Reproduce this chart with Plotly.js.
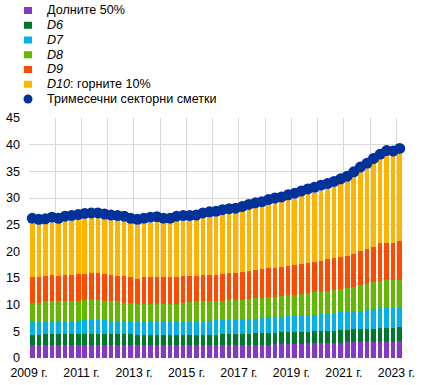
<!DOCTYPE html>
<html><head><meta charset="utf-8">
<script src="https://cdn.plot.ly/plotly-3.0.1.min.js"></script>
<style>html,body{margin:0;padding:0;background:#fff}</style>
</head><body><div id="chart" style="width:431px;height:385px"></div>
<script>
// Quarters 2009 Q1 ... 2023 Q1 (57 quarters)
const quarters = [
 "2009 Q1","2009 Q2","2009 Q3","2009 Q4","2010 Q1","2010 Q2","2010 Q3","2010 Q4",
 "2011 Q1","2011 Q2","2011 Q3","2011 Q4","2012 Q1","2012 Q2","2012 Q3","2012 Q4",
 "2013 Q1","2013 Q2","2013 Q3","2013 Q4","2014 Q1","2014 Q2","2014 Q3","2014 Q4",
 "2015 Q1","2015 Q2","2015 Q3","2015 Q4","2016 Q1","2016 Q2","2016 Q3","2016 Q4",
 "2017 Q1","2017 Q2","2017 Q3","2017 Q4","2018 Q1","2018 Q2","2018 Q3","2018 Q4",
 "2019 Q1","2019 Q2","2019 Q3","2019 Q4","2020 Q1","2020 Q2","2020 Q3","2020 Q4",
 "2021 Q1","2021 Q2","2021 Q3","2021 Q4","2022 Q1","2022 Q2","2022 Q3","2022 Q4",
 "2023 Q1"];

const bottom50 = [2.4,2.4,2.4,2.4,2.4,2.4,2.4,2.5,2.5,2.5,2.5,2.5,2.5,2.5,2.5,2.5,
 2.4,2.4,2.4,2.4,2.4,2.4,2.4,2.4,2.4,2.4,2.4,2.4,2.4,2.4,2.4,2.4,
 2.45,2.45,2.45,2.45,2.5,2.55,2.6,2.6,2.7,2.7,2.75,2.8,2.8,2.85,2.9,2.9,
 2.95,2.95,3.0,3.0,3.0,3.0,3.05,3.05,3.2];
const d6 = [1.85,1.85,2.05,2.05,2.05,2.05,2.05,1.95,1.95,1.95,1.95,1.95,1.95,1.95,1.95,1.95,
 1.85,1.85,1.85,2.0,2.0,2.0,2.0,2.0,2.0,2.0,2.0,2.0,2.0,2.05,2.05,2.1,
 2.05,2.1,2.15,2.2,2.2,2.2,2.2,2.25,2.2,2.25,2.2,2.2,2.25,2.25,2.25,2.3,
 2.35,2.4,2.45,2.5,2.5,2.55,2.55,2.6,2.55];
const d7 = [2.75,2.75,2.55,2.55,2.55,2.55,2.55,2.55,2.75,2.75,2.75,2.75,2.55,2.55,2.55,2.55,
 2.6,2.6,2.6,2.45,2.45,2.45,2.45,2.45,2.6,2.6,2.6,2.6,2.65,2.65,2.75,2.7,
 2.8,2.8,2.8,2.85,2.9,2.9,2.95,2.95,3.0,3.05,3.1,3.1,3.15,3.2,3.3,3.4,
 3.35,3.4,3.45,3.6,3.7,3.75,3.75,3.75,3.8];
const d8 = [3.4,3.4,3.6,3.6,3.6,3.7,3.7,3.75,3.6,3.6,3.6,3.55,3.6,3.6,3.4,3.4,
 3.35,3.35,3.35,3.35,3.35,3.35,3.35,3.45,3.5,3.6,3.6,3.6,3.55,3.6,3.6,3.6,
 3.6,3.65,3.8,3.8,3.8,3.85,3.95,4.0,4.0,4.0,4.15,4.2,4.2,4.2,4.35,4.4,
 4.55,4.65,4.7,4.8,5.0,5.1,5.25,5.2,5.05];
const d9 = [4.85,4.85,4.8,4.9,4.7,4.85,4.85,4.95,5.0,5.1,5.1,4.95,4.9,4.85,4.9,4.85,
 4.7,4.9,4.9,5.0,4.9,4.9,5.0,5.0,4.9,4.8,4.9,5.0,5.0,5.1,5.1,5.2,
 5.3,5.3,5.3,5.3,5.4,5.4,5.4,5.5,5.5,5.6,5.6,5.7,5.8,6.0,5.9,5.9,
 5.9,6.1,6.4,6.5,6.7,7.1,7.0,7.0,7.3];
const d10 = [9.85,9.75,9.9,9.9,10.0,10.05,10.15,10.2,10.3,10.3,10.3,10.3,10.3,10.25,10.3,10.05,
 10.1,10.1,10.3,10.3,10.1,10.1,10.4,10.4,10.3,10.4,10.7,10.8,10.9,11.0,11.1,11.1,
 11.2,11.5,11.6,11.7,11.9,12.1,12.1,12.3,12.5,12.7,12.9,13.0,13.2,13.2,13.4,13.7,
 14.0,14.4,14.8,15.1,15.5,15.7,16.3,16.2,16.4];
const sectorTotal = [26.2,26.0,26.1,26.4,26.2,26.6,26.7,26.9,27.1,27.2,27.2,27.0,26.8,26.7,26.6,26.2,
 26.0,26.2,26.4,26.5,26.2,26.2,26.6,26.7,26.7,26.8,27.2,27.4,27.5,27.8,28.0,28.1,
 28.4,28.8,29.1,29.3,29.7,30.0,30.2,30.6,30.9,31.3,31.7,32.0,32.4,32.7,33.1,33.6,
 34.1,34.9,35.8,36.5,37.4,38.2,38.9,38.8,39.3];

const yearTickLabels = ["2009 г.","","2011 г.","","2013 г.","","2015 г.","","2017 г.","","2019 г.","","2021 г.","","2023 г."];
const yTicks = [0,5,10,15,20,25,30,35,40,45];

const seriesNames = ["Долните 50%","<i>D6</i>","<i>D7</i>","<i>D8</i>","<i>D9</i>","<i>D10</i>: горните 10%"];
const seriesData = [bottom50,d6,d7,d8,d9,d10];
const colors = ["#8139c6","#00782b","#00b1ea","#65b800","#ff4b00","#ffb400"];
const dotName = "Тримесечни секторни сметки";
const dotColor = "#003299";

const xIdx = quarters.map((q,i)=>i);
const traces = seriesData.map((vals,k)=>({
  type:'bar', x:xIdx, y:vals, name:seriesNames[k], customdata:quarters, textposition:'none',
  hovertemplate:'%{customdata}: %{y}<extra></extra>',
  marker:{color:colors[k], line:{width:0}}, showlegend:false
}));
traces.push({type:'scatter', mode:'markers', x:xIdx, y:sectorTotal, name:dotName, customdata:quarters,
  hovertemplate:'%{customdata}: %{y}<extra></extra>',
  marker:{color:dotColor, size:11, line:{width:0}}, showlegend:false, cliponaxis:false});

// plot area geometry (px)
const W=431,H=385, L=29, R=28, T=118, B=27;
const pw=W-L-R, ph=H-T-B;
const px2x = p => (p-L)/pw;
const py2y = p => (H-B-p)/ph;

const legendItems = [...seriesNames, dotName];
const legendColors = [...colors, dotColor];
const rowY0 = 10.5, rowStep = 14.75;
const shapes=[], annotations=[];
legendItems.forEach((name,i)=>{
  const cy = rowY0 + i*rowStep;
  if(i<6){
    shapes.push({type:'rect', xref:'paper', yref:'paper', x0:px2x(24), x1:px2x(32), y0:py2y(cy+3.5), y1:py2y(cy-3.5),
      fillcolor:legendColors[i], line:{width:0}});
  } else {
    shapes.push({type:'circle', xref:'paper', yref:'paper', x0:px2x(23.5), x1:px2x(32.5), y0:py2y(cy+4.5), y1:py2y(cy-4.5),
      fillcolor:legendColors[i], line:{width:0}});
  }
  annotations.push({xref:'paper', yref:'paper', x:px2x(45), y:py2y(cy), xanchor:'left', yanchor:'middle',
    text:name, showarrow:false, font:{family:'Liberation Sans, Arial, sans-serif', size:12.6, color:'#000'}});
});

const layout = {
  width:W, height:H, margin:{l:L, r:R, t:T, b:B, pad:0},
  paper_bgcolor:'#fff', plot_bgcolor:'#fff',
  barmode:'stack', bargap:0.3,
  font:{family:'Liberation Sans, Arial, sans-serif', size:12, color:'#000'},
  xaxis:{range:[-0.5,56.5], tickmode:'array', tickvals:yearTickLabels.map((t,k)=>-0.5+4*k), ticktext:yearTickLabels,
    showgrid:true, gridcolor:'#d9d9d9', gridwidth:1, zeroline:false, showline:false, ticks:'', ticklabelstandoff:6,
    tickfont:{size:12.3}},
  yaxis:{range:[0,45], tickmode:'array', tickvals:yTicks, showgrid:true, gridcolor:'#d9d9d9', gridwidth:1,
    zeroline:false, showline:false, ticks:'', ticklabelstandoff:8, tickfont:{size:12.6}},
  shapes:shapes, annotations:annotations, showlegend:false
};
Plotly.newPlot('chart', traces, layout, {displayModeBar:false, staticPlot:true});
</script></body></html>
